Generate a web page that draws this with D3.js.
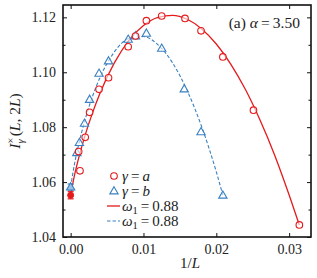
<!DOCTYPE html>
<html>
<head>
<meta charset="utf-8">
<script src="https://cdn.jsdelivr.net/npm/d3@7"></script>
<style>
  body { margin: 0; background: #fff; }
  text { font-family: "Liberation Serif", "DejaVu Serif", serif; fill: #222; }
</style>
</head>
<body>
<svg id="chart" width="317" height="278"></svg>
<script>
// data
const redX = [0.0011, 0.00128, 0.0020, 0.0026, 0.0039, 0.0052, 0.0079, 0.0089, 0.0104, 0.0125, 0.0157, 0.0179, 0.0209, 0.0251, 0.0314];
const redY = [1.0711, 1.0641, 1.0763, 1.0854, 1.0938, 1.0980, 1.1093, 1.1132, 1.1188, 1.1205, 1.1196, 1.1151, 1.1056, 1.0862, 1.0444];
const blueX = [0.00085, 0.0012, 0.0019, 0.0026, 0.0039, 0.0052, 0.0079, 0.0089, 0.0104, 0.0125, 0.0156, 0.0179, 0.0209];
const blueY = [1.0707, 1.0744, 1.0814, 1.0901, 1.0996, 1.1041, 1.1120, 1.1132, 1.1142, 1.1087, 1.0939, 1.0783, 1.0552];

// extrapolated values at 1/L = 0 with error
const redExtrap = { x: 0, y: 1.0552, err: 0.0013 };
const blueExtrap = { x: 0, y: 1.0582, err: 0.0011 };

// fit curves (omega_1 = 0.88)
const redFitX = [0, 0.0005, 0.001, 0.002, 0.003, 0.004, 0.006, 0.008, 0.010, 0.012, 0.014, 0.016, 0.018, 0.020, 0.022, 0.024, 0.026, 0.028, 0.030, 0.0314];
const redFitY = [1.0552, 1.0622, 1.0677, 1.0772, 1.0852, 1.0922, 1.1034, 1.1116, 1.1170, 1.1200, 1.1207, 1.1193, 1.1158, 1.1103, 1.1029, 1.0937, 1.0826, 1.0699, 1.0553, 1.0444];
const blueFitX = [0, 0.0005, 0.001, 0.002, 0.003, 0.004, 0.006, 0.008, 0.010, 0.012, 0.014, 0.016, 0.018, 0.020, 0.0209];
const blueFitY = [1.0582, 1.0662, 1.0725, 1.0829, 1.0912, 1.0979, 1.1074, 1.1123, 1.1130, 1.1100, 1.1034, 1.0933, 1.0801, 1.0637, 1.0552];

const xTicks = [0, 0.01, 0.02, 0.03];
const yTicks = [1.04, 1.06, 1.08, 1.10, 1.12];
const yMinor = [1.05, 1.07, 1.09, 1.11];

const red = '#e41a1c';
const blue = '#3a80c0';

const svg = d3.select('#chart');
const mLeft = 63, mRight = 311, mTop = 5, mBottom = 237;

const x = d3.scaleLinear().domain([-0.00105, 0.0330]).range([mLeft, mRight]);
const y = d3.scaleLinear().domain([1.04, 1.1245]).range([mBottom, mTop]);

// axes (ticks inward)
const g = svg.append('g');
const axB = d3.axisBottom(x).tickValues(xTicks).tickSize(-4).tickSizeOuter(0).tickPadding(7).tickFormat(d3.format('.2f'));
const axT = d3.axisTop(x).tickValues(xTicks).tickSize(-4).tickSizeOuter(0).tickFormat('');
const axL = d3.axisLeft(y).tickValues(yTicks).tickSize(-4).tickSizeOuter(0).tickPadding(7).tickFormat(d3.format('.2f'));
const axR = d3.axisRight(y).tickValues(yTicks).tickSize(-4).tickSizeOuter(0).tickFormat('');
const axLm = d3.axisLeft(y).tickValues(yMinor).tickSize(-2.5).tickSizeOuter(0).tickFormat('');
const axRm = d3.axisRight(y).tickValues(yMinor).tickSize(-2.5).tickSizeOuter(0).tickFormat('');

g.append('g').attr('transform', `translate(0,${mBottom})`).call(axB);
g.append('g').attr('transform', `translate(0,${mTop})`).call(axT);
g.append('g').attr('transform', `translate(${mLeft},0)`).call(axL);
g.append('g').attr('transform', `translate(${mRight},0)`).call(axR);
g.append('g').attr('transform', `translate(${mLeft},0)`).call(axLm);
g.append('g').attr('transform', `translate(${mRight},0)`).call(axRm);
g.selectAll('.domain').remove();
g.selectAll('.tick line').attr('stroke', '#111').attr('stroke-width', 1);
g.selectAll('.tick text').attr('font-size', 14).attr('fill', '#222')
  .style('font-family', '"Liberation Serif", serif');

svg.append('rect')
  .attr('x', mLeft).attr('y', mTop)
  .attr('width', mRight - mLeft).attr('height', mBottom - mTop)
  .attr('fill', 'none').attr('stroke', '#111').attr('stroke-width', 1.6);

// fit lines
const line = d3.line().x((d) => x(d[0])).y((d) => y(d[1])).curve(d3.curveMonotoneX);
svg.append('path')
  .attr('d', line(d3.zip(redFitX, redFitY)))
  .attr('fill', 'none').attr('stroke', red).attr('stroke-width', 1.3);
svg.append('path')
  .attr('d', line(d3.zip(blueFitX, blueFitY)))
  .attr('fill', 'none').attr('stroke', blue).attr('stroke-width', 1.1)
  .attr('stroke-dasharray', '3.5,2');

// error bars at 1/L = 0
[[blueExtrap, blue], [redExtrap, red]].forEach(([p, c]) => {
  const eb = svg.append('g').attr('stroke', c).attr('stroke-width', 1.2);
  eb.append('line').attr('x1', x(p.x)).attr('x2', x(p.x)).attr('y1', y(p.y - p.err)).attr('y2', y(p.y + p.err));
  [p.y - p.err, p.y + p.err].forEach((v) => {
    eb.append('line').attr('x1', x(p.x) - 3).attr('x2', x(p.x) + 3).attr('y1', y(v)).attr('y2', y(v));
  });
});

// markers
const tri = d3.symbol().type(d3.symbolTriangle).size(30);
svg.append('g').selectAll('path')
  .data(d3.zip(blueX, blueY))
  .join('path')
  .attr('d', tri)
  .attr('transform', (d) => `translate(${x(d[0])},${y(d[1]) + 0.5})`)
  .attr('fill', 'white').attr('fill-opacity', 0.6)
  .attr('stroke', blue).attr('stroke-width', 1.1);
svg.append('path')
  .attr('d', tri)
  .attr('transform', `translate(${x(blueExtrap.x)},${y(blueExtrap.y) + 0.5})`)
  .attr('fill', '#9cc0e4').attr('stroke', blue).attr('stroke-width', 1.1);

svg.append('g').selectAll('circle')
  .data(d3.zip(redX, redY))
  .join('circle')
  .attr('cx', (d) => x(d[0])).attr('cy', (d) => y(d[1]))
  .attr('r', 3.3)
  .attr('fill', 'white').attr('fill-opacity', 0.6)
  .attr('stroke', red).attr('stroke-width', 1.1);
svg.append('circle')
  .attr('cx', x(redExtrap.x)).attr('cy', y(redExtrap.y)).attr('r', 3)
  .attr('fill', red).attr('stroke', red);

// annotation
svg.append('text').attr('x', 300).attr('y', 28).attr('text-anchor', 'end').attr('font-size', 15.5)
  .html('(a) <tspan font-style="italic">α</tspan>\u2009=\u20093.50');

// legend
const leg = svg.append('g').attr('font-size', 15);
const lx = 114, tx = 122;
const rows = [176, 191, 206, 221];
leg.append('circle').attr('cx', lx).attr('cy', rows[0]).attr('r', 3.3)
  .attr('fill', 'none').attr('stroke', red).attr('stroke-width', 1.1);
leg.append('path').attr('d', tri).attr('transform', `translate(${lx},${rows[1] + 0.5})`)
  .attr('fill', 'none').attr('stroke', blue).attr('stroke-width', 1.1);
leg.append('line').attr('x1', lx - 7).attr('x2', lx + 6).attr('y1', rows[2]).attr('y2', rows[2])
  .attr('stroke', red).attr('stroke-width', 1.3);
leg.append('line').attr('x1', lx - 7).attr('x2', lx + 6).attr('y1', rows[3]).attr('y2', rows[3])
  .attr('stroke', blue).attr('stroke-width', 1.1).attr('stroke-dasharray', '3.5,2');

leg.append('text').attr('x', tx).attr('y', rows[0] + 5)
  .html('<tspan font-style="italic">γ</tspan>\u2009=\u2009<tspan font-style="italic">a</tspan>');
leg.append('text').attr('x', tx).attr('y', rows[1] + 5)
  .html('<tspan font-style="italic">γ</tspan>\u2009=\u2009<tspan font-style="italic">b</tspan>');
[rows[2], rows[3]].forEach((ry) => {
  leg.append('text').attr('x', tx).attr('y', ry + 5)
    .html('<tspan font-style="italic">ω</tspan><tspan font-size="10.5" dy="3">1</tspan><tspan dy="-3">\u2009=\u20090.88</tspan>');
});

// axis titles
svg.append('text').attr('x', 190).attr('y', 268).attr('text-anchor', 'middle').attr('font-size', 15)
  .html('1/<tspan font-style="italic">L</tspan>');

svg.append('text')
  .attr('transform', 'translate(20,121) rotate(-90)')
  .attr('text-anchor', 'middle').attr('font-size', 15.5)
  .html('<tspan font-style="italic">I</tspan><tspan font-size="10.5" dy="-6">×</tspan><tspan font-size="10.5" font-style="italic" dx="-6" dy="10">γ</tspan><tspan dy="-4">\u2009(</tspan><tspan font-style="italic">L</tspan>, 2<tspan font-style="italic">L</tspan>)');
</script>
</body>
</html>
